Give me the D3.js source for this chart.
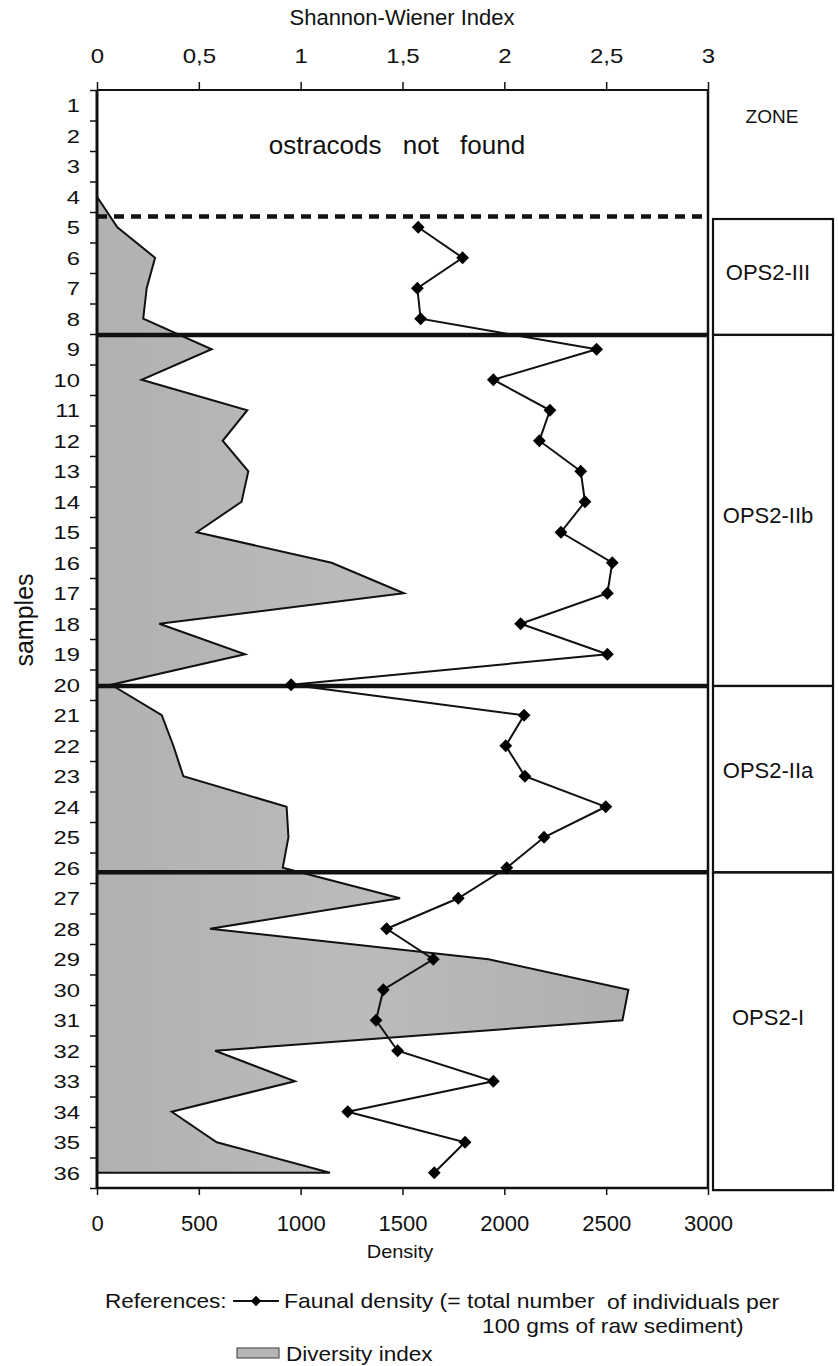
<!DOCTYPE html>
<html><head><meta charset="utf-8">
<script src="https://cdn.jsdelivr.net/npm/d3@7"></script>
<style>
body{margin:0;background:#fff;}
svg{display:block;}
text{font-family:"Liberation Sans",Arial,sans-serif;fill:#111;}
</style></head>
<body>
<script>
// ---- data ----
const sampleLabels = [1,2,3,4,5,6,7,8,9,10,11,12,13,14,15,16,17,18,19,20,21,22,23,24,25,26,27,28,29,30,31,32,33,34,35,36];
const densityTicks = [0,500,1000,1500,2000,2500,3000];
const shannonTicks = [0,0.5,1,1.5,2,2.5,3];
const shannonTickLabels = ["0","0,5","1","1,5","2","2,5","3"];

const densitySamples = [5,6,7,8,9,10,11,12,13,14,15,16,17,18,19,20,21,22,23,24,25,26,27,28,29,30,31,32,33,34,35,36];
const densityValues  = [1577,1795,1573,1589,2453,1946,2224,2172,2375,2396,2278,2530,2506,2080,2506,953,2097,2007,2101,2498,2195,2012,1774,1422,1651,1406,1370,1476,1946,1231,1807,1656];

const diversitySamples = [4,5,6,7,8,9,10,11,12,13,14,15,16,17,18,19,20,21,22,23,24,25,26,27,28,29,30,31,32,33,34,35,36];
const diversityValues  = [0,0.1,0.285,0.244,0.227,0.563,0.219,0.738,0.617,0.743,0.71,0.49,1.152,1.507,0.306,0.727,0.07,0.318,0.375,0.424,0.931,0.94,0.912,1.488,0.555,1.922,2.609,2.58,0.58,0.972,0.367,0.588,1.144];

const zoneNames   = ["OPS2-III","OPS2-IIb","OPS2-IIa","OPS2-I"];
const zoneTops    = [4.73, 8.53, 20.04, 26.15];
const zoneBottoms = [8.53, 20.04, 26.15, 36.57];
const zoneLabelPos = [6.46, 14.43, 22.8, 30.88];
const dashedBoundary = 4.65;
const solidBoundaries = [8.53, 20.04, 26.15];

// ---- layout ----
const W = 838, H = 1366;
const L = 97, R = 708, T = 90, B = 1188;
const svg = d3.select("body").append("svg").attr("width", W).attr("height", H);

const x = d3.scaleLinear().domain([0,3000]).range([L,R]);
const xs = d3.scaleLinear().domain([0,3]).range([L,R]);
const y = d3.scaleLinear().domain([0.5,36.5]).range([T,B]);

function txt(parent, px, py, str, size, anchor, sx){
  return parent.append("text").attr("transform",`translate(${px},${py}) scale(${sx||1},1)`)
    .attr("text-anchor",anchor||"start").attr("font-size",size).text(str);
}

// diversity area
const divData = diversitySamples.map((s,i)=>({s, v: diversityValues[i]}));
const grad = svg.append("defs").append("linearGradient").attr("id","g").attr("x1","0").attr("x2","1").attr("y1","0").attr("y2","0");
grad.append("stop").attr("offset","0%").attr("stop-color","#b1b1b1");
grad.append("stop").attr("offset","50%").attr("stop-color","#bbbbbb");
grad.append("stop").attr("offset","100%").attr("stop-color","#afafaf");
svg.append("path").datum(divData)
  .attr("d", d3.area().y(d=>y(d.s)).x0(xs(0)).x1(d=>xs(d.v)))
  .attr("fill","url(#g)").attr("stroke","#111").attr("stroke-width",2);

// frame top/right
svg.append("line").attr("x1",L).attr("x2",R).attr("y1",T).attr("y2",T).attr("stroke","#111").attr("stroke-width",2);
svg.append("line").attr("x1",R).attr("x2",R).attr("y1",T).attr("y2",B).attr("stroke","#111").attr("stroke-width",2.5);

// top axis
const topAxis = d3.axisTop(xs).tickValues(shannonTicks).tickFormat((d,i)=>shannonTickLabels[i]).tickSize(8).tickPadding(19);
const gt = svg.append("g").attr("transform",`translate(0,${T})`).call(topAxis);
gt.select(".domain").remove();
gt.selectAll(".tick line").attr("stroke","#111").attr("stroke-width",1.5);
gt.selectAll(".tick text").attr("font-size",20).attr("transform","scale(1.2,1)");
txt(svg, 402, 25, "Shannon-Wiener Index", 22, "middle");

// bottom axis
const botAxis = d3.axisBottom(x).tickValues(densityTicks).tickFormat(d3.format("d")).tickSize(7).tickPadding(20);
const gb = svg.append("g").attr("transform",`translate(0,${B})`).call(botAxis);
gb.select(".domain").attr("stroke","#111").attr("stroke-width",2.5).attr("d",`M${L},0H${R}`);
gb.selectAll(".tick line").attr("stroke","#111").attr("stroke-width",1.5);
gb.selectAll(".tick text").attr("font-size",22);
txt(svg, 400, 1258, "Density", 19, "middle", 1.05);

// left axis: boundary ticks and sample labels
const boundaryTicks = [0.5].concat(sampleLabels.map(s=>s+0.5));
const gl = svg.append("g").attr("transform",`translate(${L},0)`).call(d3.axisLeft(y).tickValues(boundaryTicks).tickSize(7).tickFormat(""));
gl.select(".domain").attr("stroke","#111").attr("stroke-width",3).attr("d",`M0,${T}V${B}`);
gl.selectAll(".tick line").attr("stroke","#111").attr("stroke-width",1.5);
const sl = svg.append("g");
sampleLabels.forEach(s=>{ txt(sl, 80, y(s)+7, s, 19, "end", 1.25); });
svg.append("text").attr("transform","translate(33,620) rotate(-90)").attr("text-anchor","middle").attr("font-size",25).text("samples");

// zone boundary lines
svg.append("line").attr("x1",L).attr("x2",R-3).attr("y1",y(dashedBoundary)).attr("y2",y(dashedBoundary))
  .attr("stroke","#111").attr("stroke-width",4.5).attr("stroke-dasharray","10,7");
svg.append("g").selectAll("line").data(solidBoundaries).join("line")
  .attr("x1",L).attr("x2",R).attr("y1",d=>y(d)).attr("y2",d=>y(d)).attr("stroke","#111").attr("stroke-width",4.5);

// density line + markers
const denData = densitySamples.map((s,i)=>({s, v: densityValues[i]}));
svg.append("path").datum(denData).attr("d", d3.line().x(d=>x(d.v)).y(d=>y(d.s)))
  .attr("fill","none").attr("stroke","#111").attr("stroke-width",2);
const diamond = d3.symbol().type(d3.symbolSquare).size(82);
svg.append("g").selectAll("path").data(denData).join("path")
  .attr("d", diamond).attr("transform", d=>`translate(${x(d.v)},${y(d.s)}) rotate(45)`).attr("fill","#000");

// ostracods not found
svg.append("text").attr("x",397).attr("y",154).attr("text-anchor","middle")
  .attr("font-size",26).attr("word-spacing",14).text("ostracods not found");

// zone column
txt(svg, 772, 123, "ZONE", 19, "middle");
const zg = svg.append("g");
zoneNames.forEach((n,i)=>{
  zg.append("rect").attr("x",713).attr("width",120).attr("y",y(zoneTops[i])).attr("height",y(zoneBottoms[i])-y(zoneTops[i]))
    .attr("fill","none").attr("stroke","#111").attr("stroke-width",2.2);
  txt(zg, 768, y(zoneLabelPos[i])+8, n, 22, "middle");
});

// legend
const lg = svg.append("g");
txt(lg, 105, 1308, "References:", 20.5, "start", 1.1);
lg.append("line").attr("x1",233).attr("x2",279).attr("y1",1301).attr("y2",1301).attr("stroke","#111").attr("stroke-width",2.2);
lg.append("path").attr("d",d3.symbol().type(d3.symbolSquare).size(55)).attr("transform","translate(256,1301) rotate(45)").attr("fill","#000");
txt(lg, 284, 1308, "Faunal density (= total number", 20.5, "start", 1.12);
txt(lg, 607, 1309, "of individuals per", 20.5, "start", 1.12);
txt(lg, 482, 1333, "100 gms of raw sediment)", 20.5, "start", 1.11);
lg.append("rect").attr("x",237).attr("y",1348).attr("width",42).attr("height",10).attr("fill","#b5b5b5").attr("stroke","#555").attr("stroke-width",1.2);
txt(lg, 286, 1361, "Diversity index", 20.5, "start", 1.1);
</script>
</body></html>
